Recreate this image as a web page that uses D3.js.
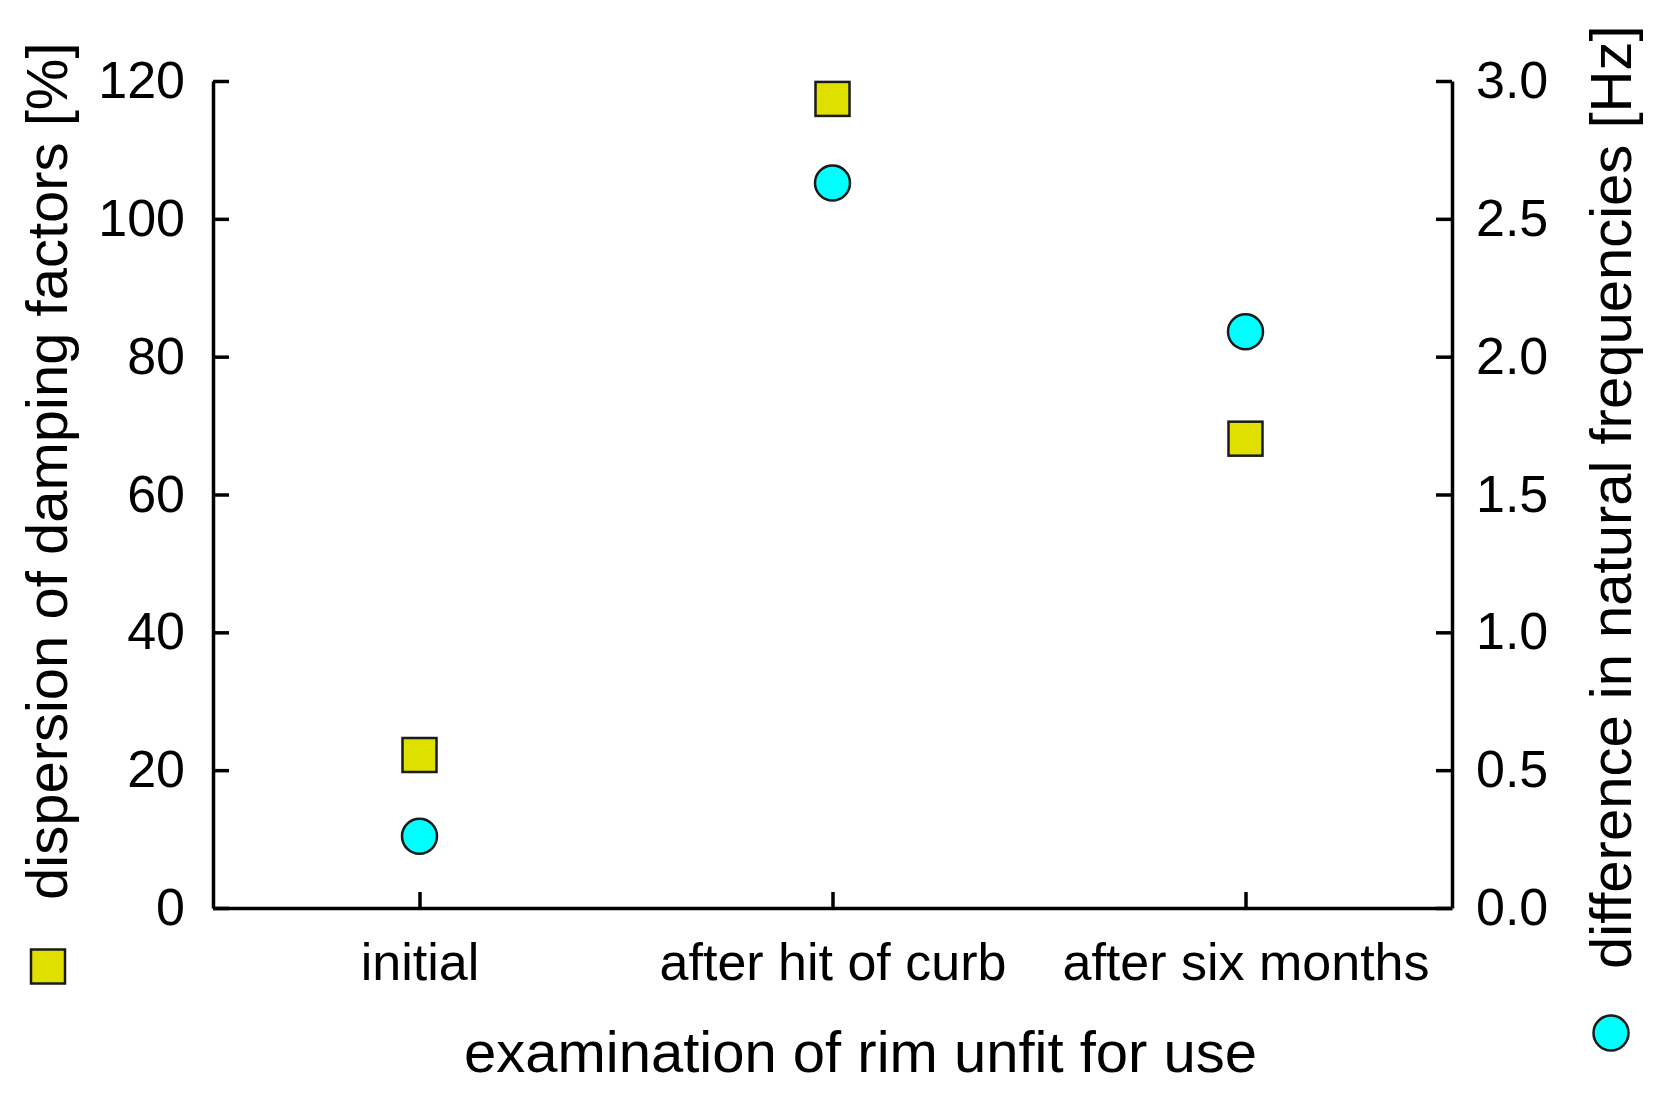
<!DOCTYPE html>
<html>
<head>
<meta charset="utf-8">
<script src="https://d3js.org/d3.v7.min.js"></script>
<style>
  body { margin: 0; background: #fff; }
  svg { display: block; font-family: "Liberation Sans", Arial, sans-serif; }
</style>
</head>
<body>
<svg id="chart" width="1658" height="1108"></svg>
<script>
  // data
  var categories = ["initial", "after hit of curb", "after six months"];
  var damping = [22.2, 117.4, 68.1];      // dispersion of damping factors [%]
  var freqDiff = [0.26, 2.63, 2.09];      // difference in natural frequencies [Hz]
  var leftTicks = [0, 20, 40, 60, 80, 100, 120];
  var rightTicks = [0, 0.5, 1.0, 1.5, 2.0, 2.5, 3.0];

  var width = 1658, height = 1108;
  var margin = { top: 81, right: 206, bottom: 200, left: 213 };

  var svg = d3.select("#chart");

  var x = d3.scalePoint()
    .domain(categories)
    .range([margin.left, width - margin.right])
    .padding(0.5);

  var yL = d3.scaleLinear()
    .domain([0, 120])
    .range([height - margin.bottom, margin.top]);

  var yR = d3.scaleLinear()
    .domain([0, 3])
    .range([height - margin.bottom, margin.top]);

  function styleAxis(g) {
    g.attr("font-family", null).attr("font-size", null);
    g.select(".domain").attr("stroke", "#000").attr("stroke-width", 3.5);
    g.selectAll(".tick line").attr("stroke", "#000").attr("stroke-width", 3.5);
    g.selectAll(".tick text").attr("fill", "#000").style("font-size", "52px");
  }

  svg.append("g")
    .attr("transform", `translate(0,${height - margin.bottom})`)
    .call(d3.axisBottom(x).tickSize(-16).tickSizeOuter(0).tickPadding(35))
    .call(styleAxis);

  svg.append("g")
    .attr("transform", `translate(${margin.left},0)`)
    .call(d3.axisLeft(yL).tickValues(leftTicks).tickSize(-16).tickSizeOuter(0).tickPadding(28))
    .call(styleAxis);

  svg.append("g")
    .attr("transform", `translate(${width - margin.right},0)`)
    .call(d3.axisRight(yR).tickValues(rightTicks).tickFormat(d3.format(".1f"))
      .tickSize(-16).tickSizeOuter(0).tickPadding(24))
    .call(styleAxis);

  // axis titles
  svg.append("text")
    .attr("x", 464)
    .attr("y", 1072)
    .style("font-size", "58px")
    .text("examination of rim unfit for use");

  svg.append("text")
    .attr("transform", "translate(67,900) rotate(-90)")
    .style("font-size", "58px")
    .text("dispersion of damping factors [%]");

  svg.append("text")
    .attr("transform", "translate(1631,969) rotate(-90)")
    .style("font-size", "58px")
    .text("difference in natural frequencies [Hz]");

  var sq = 34, r = 17.5;

  // squares: damping (left axis)
  svg.selectAll("rect.damp")
    .data(damping)
    .join("rect")
    .attr("class", "damp")
    .attr("x", (d, i) => x(categories[i]) - sq / 2)
    .attr("y", d => yL(d) - sq / 2)
    .attr("width", sq)
    .attr("height", sq)
    .attr("fill", "#e0e000")
    .attr("stroke", "#1a1a1a")
    .attr("stroke-width", 2.5);

  // circles: frequency difference (right axis)
  svg.selectAll("circle.freq")
    .data(freqDiff)
    .join("circle")
    .attr("class", "freq")
    .attr("cx", (d, i) => x(categories[i]))
    .attr("cy", d => yR(d))
    .attr("r", r)
    .attr("fill", "#00ffff")
    .attr("stroke", "#1a1a1a")
    .attr("stroke-width", 2.5);

  // legend markers next to the axis titles
  svg.append("rect")
    .attr("x", 48 - sq / 2)
    .attr("y", 966.5 - sq / 2)
    .attr("width", sq)
    .attr("height", sq)
    .attr("fill", "#e0e000")
    .attr("stroke", "#1a1a1a")
    .attr("stroke-width", 2.5);

  svg.append("circle")
    .attr("cx", 1611)
    .attr("cy", 1033)
    .attr("r", r)
    .attr("fill", "#00ffff")
    .attr("stroke", "#1a1a1a")
    .attr("stroke-width", 2.5);
</script>
</body>
</html>
